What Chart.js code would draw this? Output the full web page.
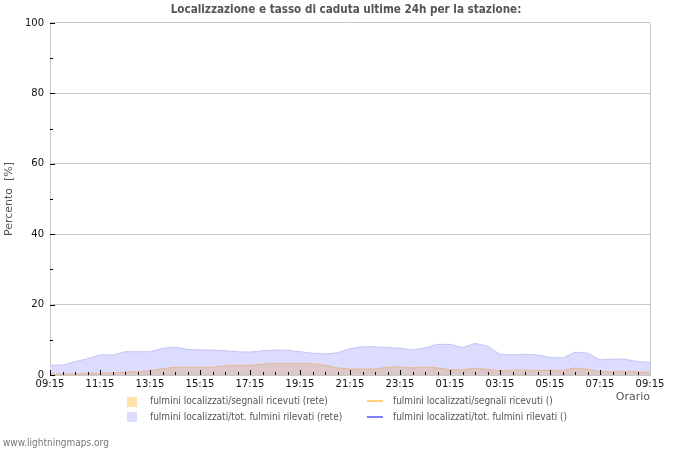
<!DOCTYPE html>
<html>
<head>
<meta charset="utf-8">
<script src="https://cdn.jsdelivr.net/npm/chart.js@4"></script>
<style>
  html, body { margin: 0; padding: 0; background: #fff; }
  #wrap { position: relative; width: 700px; height: 450px; overflow: hidden; }
  #c { position: absolute; left: 0; top: 0; }
  .lg { position: absolute; font-family: "DejaVu Sans Condensed", "DejaVu Sans", sans-serif; font-size: 10px; color: #555; white-space: nowrap; line-height: 12px; }
  .box { position: absolute; width: 10px; height: 10px; }
  .ln { position: absolute; width: 16px; height: 2px; }
  #foot { position: absolute; left: 3px; top: 437px; font-family: "DejaVu Sans Condensed", "DejaVu Sans", sans-serif; font-size: 10px; color: #777; }
</style>
</head>
<body>
<div id="wrap">
  <canvas id="c" width="700" height="450"></canvas>
  <div class="box" style="left:127px; top:397px; background:#ffe2a8;"></div>
  <div class="lg" style="left:150px; top:395px;">fulmini localizzati/segnali ricevuti (rete)</div>
  <div class="ln" style="left:367px; top:400px; background:#ffd27f;"></div>
  <div class="lg" style="left:393px; top:395px;">fulmini localizzati/segnali ricevuti ()</div>
  <div class="box" style="left:127px; top:412px; background:#dcdcff;"></div>
  <div class="lg" style="left:150px; top:411px;">fulmini localizzati/tot. fulmini rilevati (rete)</div>
  <div class="ln" style="left:367px; top:416px; background:#7f7fff;"></div>
  <div class="lg" style="left:393px; top:411px;">fulmini localizzati/tot. fulmini rilevati ()</div>
  <div id="foot">www.lightningmaps.org</div>
</div>
<script>
const timeLabels = [
  "09:15","09:45","10:15","10:45","11:15","11:45","12:15","12:45",
  "13:15","13:45","14:15","14:45","15:15","15:45","16:15","16:45",
  "17:15","17:45","18:15","18:45","19:15","19:45","20:15","20:45",
  "21:15","21:45","22:15","22:45","23:15","23:45","00:15","00:45",
  "01:15","01:45","02:15","02:45","03:15","03:45","04:15","04:45",
  "05:15","05:45","06:15","06:45","07:15","07:45","08:15","08:45","09:15"
];
const segnaliRete = [
  0.3,0.3,0.3,0.5,0.5,0.6,0.8,1.0,
  1.2,1.8,2.2,2.2,2.2,2.2,2.6,2.8,
  2.7,3.1,3.3,3.3,3.3,3.2,2.8,2.0,
  1.7,1.7,1.7,2.2,2.3,2.0,2.3,2.0,
  1.5,1.5,1.9,1.6,1.2,1.4,1.4,1.3,
  1.3,1.3,2.0,1.6,1.0,0.9,1.1,0.9,0.7
];
const rilevatiRete = [
  2.8,2.8,3.8,4.6,5.7,5.7,6.6,6.6,
  6.6,7.6,7.9,7.3,7.1,7.1,6.9,6.6,
  6.5,6.9,7.1,7.0,6.6,6.2,6.0,6.3,
  7.5,8.0,8.0,7.8,7.6,7.1,7.7,8.7,
  8.7,7.8,9.0,8.2,5.9,5.7,5.9,5.7,
  5.0,4.8,6.5,6.2,4.3,4.5,4.5,3.8,3.6
];
const segnaliStazione = [];
const rilevatiStazione = [];
const yTicks = [0,10,20,30,40,50,60,70,80,90,100];

const FONT = '"DejaVu Sans", sans-serif';

const innerTicks = {
  id: 'innerTicks',
  afterDatasetsDraw(chart) {
    const {ctx, chartArea, scales} = chart;
    const xs = scales.x, ys = scales.y;
    ctx.save();
    ctx.strokeStyle = '#000';
    ctx.lineWidth = 1;
    ctx.beginPath();
    timeLabels.forEach((t, i) => {
      const x = Math.round(xs.getPixelForValue(i)) + 0.5;
      const len = (i % 4 === 0) ? 5 : 3;
      ctx.moveTo(x, chartArea.bottom);
      ctx.lineTo(x, chartArea.bottom - len);
    });
    yTicks.forEach(v => {
      const y = Math.round(ys.getPixelForValue(v)) + 0.5;
      const len = (v % 20 === 0) ? 5 : 3;
      ctx.moveTo(chartArea.left, y);
      ctx.lineTo(chartArea.left + len, y);
    });
    ctx.stroke();
    ctx.strokeStyle = '#c8c8c8';
    ctx.beginPath();
    ctx.moveTo(Math.round(chartArea.right) + 0.5, chartArea.top);
    ctx.lineTo(Math.round(chartArea.right) + 0.5, chartArea.bottom);
    ctx.stroke();
    ctx.restore();
  }
};

new Chart(document.getElementById('c'), {
  type: 'line',
  data: {
    labels: timeLabels,
    datasets: [
      { label: 'fulmini localizzati/segnali ricevuti (rete)', data: segnaliRete,
        fill: 'origin', backgroundColor: 'rgb(220,200,200)', borderColor: '#e6b896',
        borderWidth: 1, pointRadius: 0, tension: 0, order: 1 },
      { label: 'fulmini localizzati/segnali ricevuti ()', data: segnaliStazione,
        fill: false, borderColor: '#ffd27f', borderWidth: 2, pointRadius: 0, order: 0 },
      { label: 'fulmini localizzati/tot. fulmini rilevati (rete)', data: rilevatiRete,
        fill: 'origin', backgroundColor: '#dcdcff', borderColor: '#c4c4f4',
        borderWidth: 1, pointRadius: 0, tension: 0, order: 2 },
      { label: 'fulmini localizzati/tot. fulmini rilevati ()', data: rilevatiStazione,
        fill: false, borderColor: '#7f7fff', borderWidth: 2, pointRadius: 0, order: 0 }
    ]
  },
  options: {
    responsive: false,
    animation: false,
    devicePixelRatio: 1,
    layout: { padding: { top: 0, right: 8, bottom: 0, left: 0 } },
    plugins: {
      legend: { display: false },
      tooltip: { enabled: false },
      title: {
        display: true,
        text: 'Localizzazione e tasso di caduta ultime 24h per la stazione:',
        color: '#555',
        font: { family: '"DejaVu Sans Condensed", "DejaVu Sans", sans-serif', size: 11.6, weight: 'bold' },
        padding: { top: 3, bottom: 6 }
      }
    },
    scales: {
      x: {
        type: 'category',
        offset: false,
        grid: { display: false, drawTicks: false },
        border: { display: true, color: '#c8c8c8' },
        ticks: {
          autoSkip: false, maxRotation: 0, minRotation: 0, padding: 3,
          color: '#111', font: { family: FONT, size: 10 },
          callback: function(v, i) { return i % 4 === 0 ? timeLabels[i] : ''; }
        },
        title: {
          display: true, text: 'Orario', align: 'end', color: '#555',
          font: { family: FONT, size: 11 }, padding: { top: 0, bottom: 46 }
        },
        afterFit(s) { s.height = 75; s.paddingLeft = 0; s.paddingRight = 0; }
      },
      y: {
        min: 0, max: 100,
        afterBuildTicks(s) { s.ticks = yTicks.map(v => ({ value: v })); },
        grid: {
          drawTicks: false,
          color: ctx => (ctx.tick && ctx.tick.value % 20 === 0 && ctx.tick.value !== 0) ? '#c8c8c8' : 'rgba(0,0,0,0)'
        },
        border: { display: true, color: '#c8c8c8' },
        ticks: {
          padding: 6, color: '#111', font: { family: FONT, size: 10 },
          callback: v => (v % 20 === 0 ? String(v) : '')
        },
        title: {
          display: true, text: 'Percento  [%]', color: '#555',
          font: { family: FONT, size: 11 }, padding: { top: 3, bottom: 0 }
        },
        afterFit(s) { s.width = 50; s.paddingTop = 0; s.paddingBottom = 0; }
      },
      yr: {
        position: 'right',
        min: 0, max: 100,
        grid: { display: false, drawTicks: false },
        border: { display: false },
        ticks: { display: false },
        afterFit(s) { s.width = 42; s.paddingTop = 0; s.paddingBottom = 0; }
      }
    }
  },
  plugins: [innerTicks]
});
</script>
</body>
</html>
